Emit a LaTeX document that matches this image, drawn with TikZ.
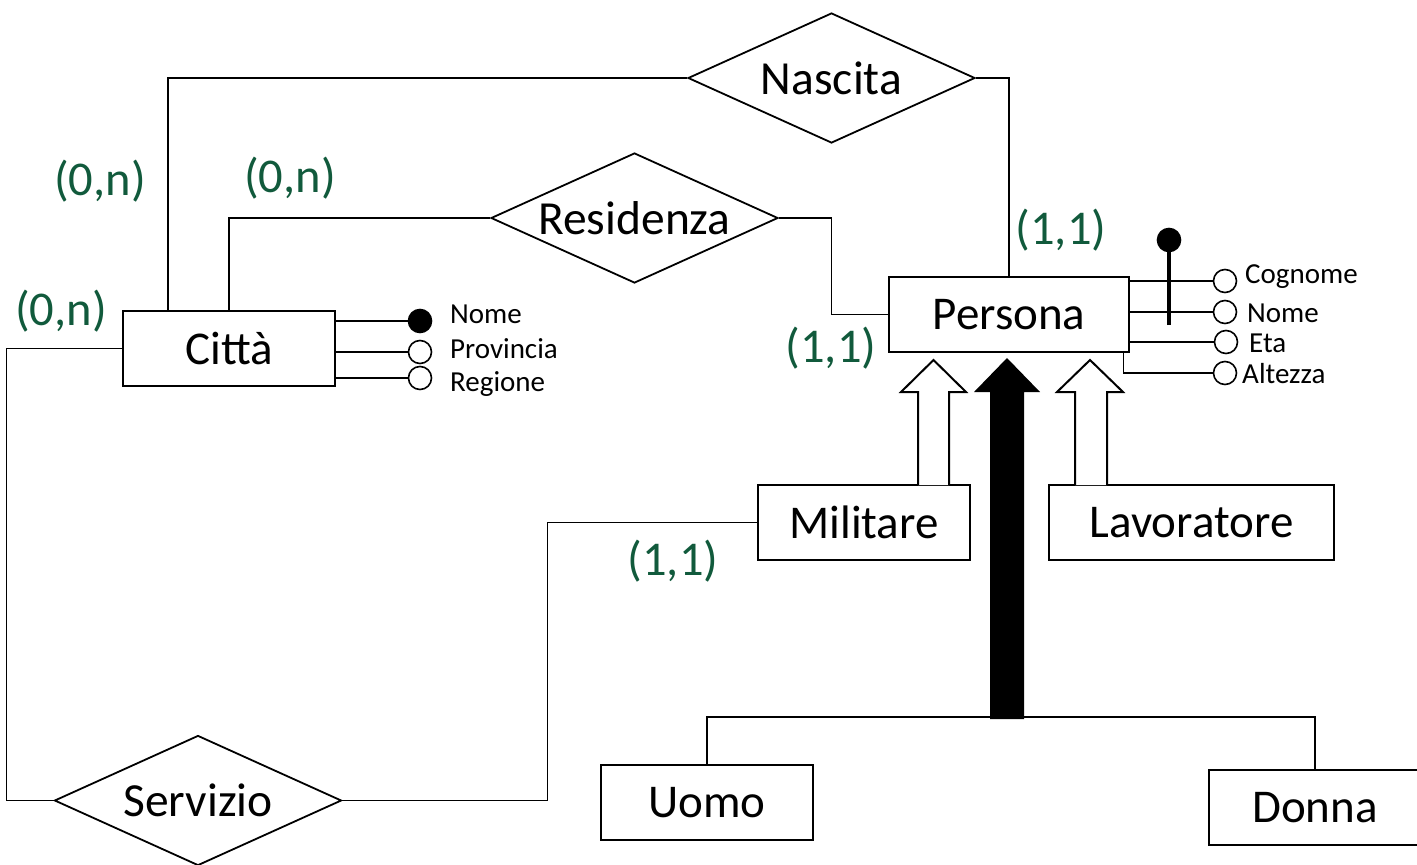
\documentclass[tikz,border=0pt]{standalone}
\usepackage{fontspec}
\setmainfont{Carlito}
\usetikzlibrary{shapes.geometric}
\definecolor{cardgreen}{RGB}{17,90,60}

\tikzset{
  entity/.style={draw, line width=2.5pt, minimum height=75pt, inner sep=0pt,
    font=\fontsize{47}{56}\selectfont},
  relation/.style={diamond, draw, line width=1.8pt, aspect=2.4, inner sep=0pt,
    minimum width=287pt, minimum height=130pt, font=\fontsize{47.5}{56}\selectfont},
  conn/.style={line width=1.2pt},
  attr/.style={circle, draw, line width=1.6pt, minimum size=23pt, inner sep=0pt},
  attrtext/.style={anchor=west, inner sep=0pt, font=\fontsize{29}{34}\selectfont},
  card/.style={text=cardgreen, font=\fontsize{48.5}{58}\selectfont},
  isa/.style={line width=2pt, fill=white}
}

\begin{document}
\begin{tikzpicture}[x=1pt,y=-1pt]
  \useasboundingbox (0,0) rectangle (1417,865);

  % Entities
  \node[entity, minimum width=212pt] (citta)      at (229,348.5)  {Città};
  \node[entity, minimum width=240pt] (persona)    at (1009,314.5) {Persona};
  \node[entity, minimum width=212pt] (militare)   at (864,522.5)  {Militare};
  \node[entity, minimum width=285pt] (lavoratore) at (1191.5,522.5) {Lavoratore};
  \node[entity, minimum width=212pt] (uomo)       at (707,802.5)  {Uomo};
  \node[entity, minimum width=212pt] (donna)      at (1315,807.5) {Donna};

  % Relationships
  \node[relation] (nascita)   at (831.5,78)  {Nascita};
  \node[relation] (residenza) at (634.5,218) {Residenza};
  \node[relation] (servizio)  at (198,800.5) {Servizio};

  % Connectors
  \draw[conn] ([xshift=-61pt]citta.north) |- (nascita.west);
  \draw[conn] (nascita.east) -| (persona.north);
  \draw[conn] (citta.north) |- (residenza.west);
  \draw[conn] (residenza.east) -| ([xshift=-56pt]persona.west) -- (persona.west);
  \draw[conn] (citta.west) -| ([xshift=-47pt]servizio.west) -- (servizio.west);
  \draw[conn] (servizio.east) -| ([xshift=-209pt]militare.west) -- (militare.west);

  % Cardinalities
  \node[card] (cNascita)   at (100,181)  {(0,n)};
  \node[card] (cResidenza) at (290,178)  {(0,n)};
  \node[card] (cServizio)  at (61,311)   {(0,n)};
  \node[card] (pNascita)   at (1061,230) {(1,1)};
  \node[card] (pResidenza) at (831,348)  {(1,1)};
  \node[card] (mServizio)  at (673,561)  {(1,1)};

  % Attributes of Citta
  \node[attr, fill=black] (cnome) at (420,321) {};
  \node[attr] (cprov) at (420,352) {};
  \node[attr] (creg)  at (420,378) {};
  \draw[conn] (citta.east |- cnome) -- (cnome);
  \draw[conn] (citta.east |- cprov) -- (cprov);
  \draw[conn] (citta.east |- creg) -- (creg);
  \node[attrtext] (tcnome) at (450,314) {Nome};
  \node[attrtext] (tcprov) at (450,349) {Provincia};
  \node[attrtext] (tcreg)  at (450,384) {Regione};

  % Attributes of Persona
  \node[attr] (pcogn) at (1225,281) {};
  \node[attr] (pnome) at (1225,312) {};
  \node[attr] (peta)  at (1226,342) {};
  \node[attr] (palt)  at (1225,373) {};
  \draw[conn] (persona.east |- pcogn) -- (pcogn);
  \draw[conn] (persona.east |- pnome) -- (pnome);
  \draw[conn] (persona.east |- peta) -- (peta);
  \draw[conn] ([xshift=-7pt]persona.south east) |- (palt);
  \node[attrtext] (tpcogn) at (1245,277) {Cognome};
  \node[attrtext] (tpnome) at (1247,313) {Nome};
  \node[attrtext] (tpeta)  at (1249,343) {Eta};
  \node[attrtext] (tpalt)  at (1242,374) {Altezza};

  % Composite identifier
  \node[attr, fill=black] (pkey) at (1169,240) {};
  \draw[line width=4pt] (1169,325) -- (pkey);

  % Generalizations
  \draw[isa] (918,485) -- (918,392) -- (901,392) -- (933.5,360) -- (966,392) -- (949,392) -- (949,485);
  \draw[isa] (1075,485) -- (1075,392) -- (1057,392) -- (1090,360) -- (1123,392) -- (1107,392) -- (1107,485);
  \fill (990,719) -- (990,392) -- (974,392) -- (1007,358) -- (1040,392) -- (1024,392) -- (1024,719) -- cycle;
  \draw[conn] (uomo.north) |- (1007,717) -| (donna.north);
\end{tikzpicture}
\end{document}
